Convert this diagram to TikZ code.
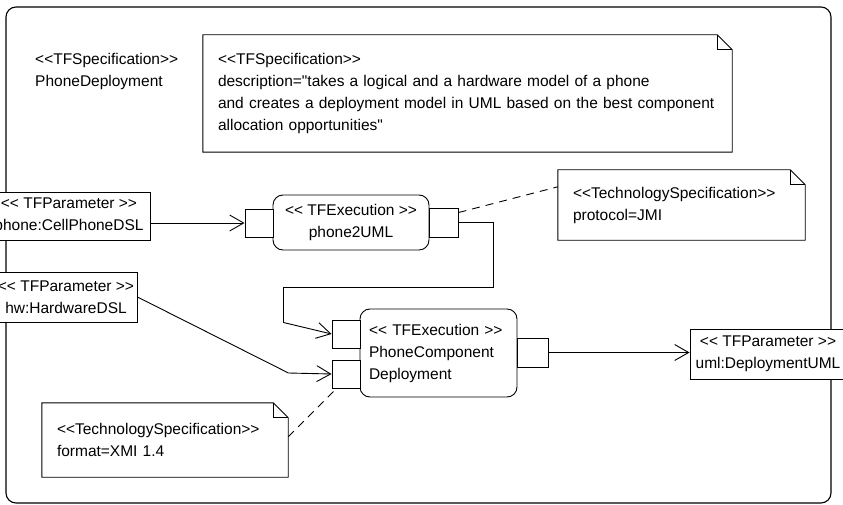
\documentclass[tikz,border=0pt]{standalone}
\usepackage{fontspec}
\setmainfont{Liberation Sans}[Ligatures=TeXOff]
\usepackage{tikz}
\usetikzlibrary{positioning, arrows.meta}
\newcommand{\txt}{\fontsize{15.5}{22}\selectfont}

\begin{document}
\begin{tikzpicture}[x=1pt, y=-1pt,
    param/.style={draw, fill=white, align=center, inner sep=0pt, line width=0.9pt, font=\txt},
    exec/.style={draw, fill=white, rounded corners=10pt, inner sep=0pt, line width=0.9pt, font=\txt},
    port/.style={draw, fill=white, inner sep=0pt, line width=0.9pt},
    notebox/.style={align=left, inner xsep=15pt, inner ysep=0pt, font=\txt},
    flow/.style={line width=0.9pt, -{Straight Barb[length=14pt, width=16pt, line width=0.9pt]}},
    link/.style={line width=0.9pt, dash pattern=on 8pt off 6pt}]
    \useasboundingbox (0,0) rectangle (843,505);
    \clip (0,0) rectangle (843,505);

    % Frame
    \node[draw, rounded corners=10pt, line width=1.1pt, minimum width=825pt, minimum height=496pt] (frame) at (418.5,255) {};
    \node[anchor=west, align=left, inner sep=0pt, font=\txt] (title) at (35,71) {<<TFSpecification>>\\PhoneDeployment};

    % Notes
    \node[notebox, text width=499pt, minimum height=117pt] (spec) at (467.5,93.5)
        {<<TFSpecification>>\\description="takes a logical and a hardware model of a phone\\and creates a deployment model in UML based on the best component\\allocation opportunities"};
    \node[notebox, text width=217pt, minimum height=70pt] (protnote) at (681.5,205)
        {<<TechnologySpecification>>\\protocol=JMI};
    \node[notebox, text width=216pt, minimum height=74pt] (fmtnote) at (165,440)
        {<<TechnologySpecification>>\\format=XMI 1.4};
    \foreach \n in {spec, protnote, fmtnote} {
        \draw[line width=0.9pt] (\n.north west) -- ([xshift=-15pt]\n.north east) -- ([yshift=-15pt]\n.north east)
            -- (\n.south east) -- (\n.south west) -- cycle;
        \draw[line width=0.9pt] ([xshift=-15pt]\n.north east) |- ([yshift=-15pt]\n.north east);
    }

    % Parameters
    \node[param, minimum width=162pt, minimum height=48pt] (phone) at (69,216) {<< TFParameter >>\\phone:CellPhoneDSL};
    \node[param, minimum width=142pt, minimum height=50pt] (hw) at (66,297) {<< TFParameter >>\\hw:HardwareDSL};
    \node[param, minimum width=156pt, minimum height=50pt] (uml) at (768,354) {<< TFParameter >>\\uml:DeploymentUML};

    % Executions
    \node[exec, align=center, minimum width=156pt, minimum height=55pt] (ph2uml) at (351,222.5) {<< TFExecution >>\\phone2UML};
    \node[exec, align=left, text width=139pt, inner xsep=9pt, minimum height=88pt] (pcdep) at (438.5,353)
        {<< TFExecution >>\\PhoneComponent\\Deployment};

    % Ports
    \node[port, minimum width=28pt, minimum height=28pt] (phin) at (259,223) {};
    \node[port, minimum width=29pt, minimum height=29pt] (phout) at (443.5,222.5) {};
    \node[port, minimum width=28pt, minimum height=28pt] (pcin1) at (346,334) {};
    \node[port, minimum width=28pt, minimum height=28pt] (pcin2) at (346,374) {};
    \node[port, minimum width=31pt, minimum height=29pt] (pcout) at (532.5,352.5) {};

    % Flows
    \draw[flow] (phone.east |- phin.west) -- (phin.west);
    \draw[flow] (phout.east) -- ++(35,0) -- ++(0,65) -- ++(-210,0) -- ++(0,35) -- (pcin1.west);
    \draw[flow] (hw.east) -- ++(151,76) -- (pcin2.west);
    \draw[flow] (pcout.east) -- (uml.west |- pcout.east);

    % Note links
    \draw[link] ([yshift=-5pt]phout.north east) -- ([yshift=-17pt]protnote.north west);
    \draw[link] ([yshift=-34pt]fmtnote.north east) -- ([xshift=5pt]pcin2.south west);
\end{tikzpicture}
\end{document}
